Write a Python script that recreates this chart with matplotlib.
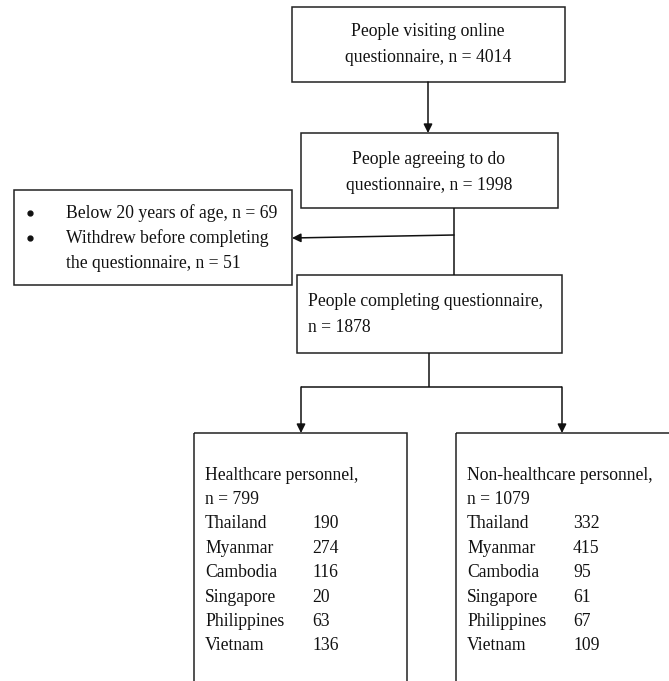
import matplotlib
matplotlib.use("Agg")
import matplotlib.pyplot as plt
from matplotlib.patches import Rectangle

# ---- data ----
n_visiting = 4014
n_agreeing = 1998
n_under20 = 69
n_withdrew = 51
n_completing = 1878
n_health = 799
n_nonhealth = 1079
countries = ["Thailand", "Myanmar", "Cambodia", "Singapore", "Philippines", "Vietnam"]
health_counts = [190, 274, 116, 20, 63, 136]
nonhealth_counts = [332, 415, 95, 61, 67, 109]

plt.rcParams['font.family'] = ['Liberation Serif', 'DejaVu Serif']
FS = 12.7
LW = 1.1

fig = plt.figure(figsize=(6.69, 6.81), dpi=100)
ax = fig.add_axes([0, 0, 1, 1])
ax.set_xlim(0, 669)
ax.set_ylim(681, 0)
ax.axis('off')

def box(x0, y0, x1, y1):
    ax.add_patch(Rectangle((x0, y0), x1 - x0, y1 - y0, fill=False,
                           edgecolor='#222222', linewidth=LW, clip_on=False))

def line(xs, ys):
    ax.plot(xs, ys, color='#111111', linewidth=LW, solid_capstyle='butt')

def arrow(x0, y0, x1, y1):
    ax.annotate('', xy=(x1, y1), xytext=(x0, y0),
                arrowprops=dict(arrowstyle='-|>', color='#111111', lw=LW,
                                mutation_scale=13, shrinkA=0, shrinkB=0))

def txt(x, y, s, ha='left'):
    ax.text(x, y, s, ha=ha, va='center', fontsize=FS, color='#111111')

# Box 1
box(292, 7, 565, 82)
txt(428, 32, "People visiting online", 'center')
txt(428, 58, f"questionnaire, n = {n_visiting}", 'center')
arrow(428, 82, 428, 133)

# Box 2
box(301, 133, 558, 208)
txt(429, 159, "People agreeing to do", 'center')
txt(429, 185, f"questionnaire, n = {n_agreeing}", 'center')
line([454, 454], [208, 275])
arrow(454, 235, 292, 238)

# Exclusion box
box(14, 190, 292, 285)
ax.plot([30, 30], [213, 238], 'o', color='#111111', markersize=3.5)
txt(66, 213, f"Below 20 years of age, n = {n_under20}")
txt(66, 238, "Withdrew before completing")
txt(66, 263, f"the questionnaire, n = {n_withdrew}")

# Box 3
box(297, 275, 562, 353)
txt(308, 301, "People completing questionnaire,")
txt(308, 327, f"n = {n_completing}")

line([429, 429], [353, 387])
line([301, 562], [387, 387])
arrow(301, 387, 301, 433)
arrow(562, 387, 562, 433)

# Bottom boxes
box(194, 433, 407, 700)
box(456, 433, 680, 700)

y0 = 475
dy = 24.4
txt(205, y0, "Healthcare personnel,")
txt(205, y0 + dy, f"n = {n_health}")
txt(467, y0, "Non-healthcare personnel,")
txt(467, y0 + dy, f"n = {n_nonhealth}")
for i, c in enumerate(countries):
    y = y0 + dy * (i + 2)
    txt(205, y, c)
    txt(312, y, str(health_counts[i]))
    txt(467, y, c)
    txt(573, y, str(nonhealth_counts[i]))

fig.savefig("out.png", dpi=100, facecolor='white')
